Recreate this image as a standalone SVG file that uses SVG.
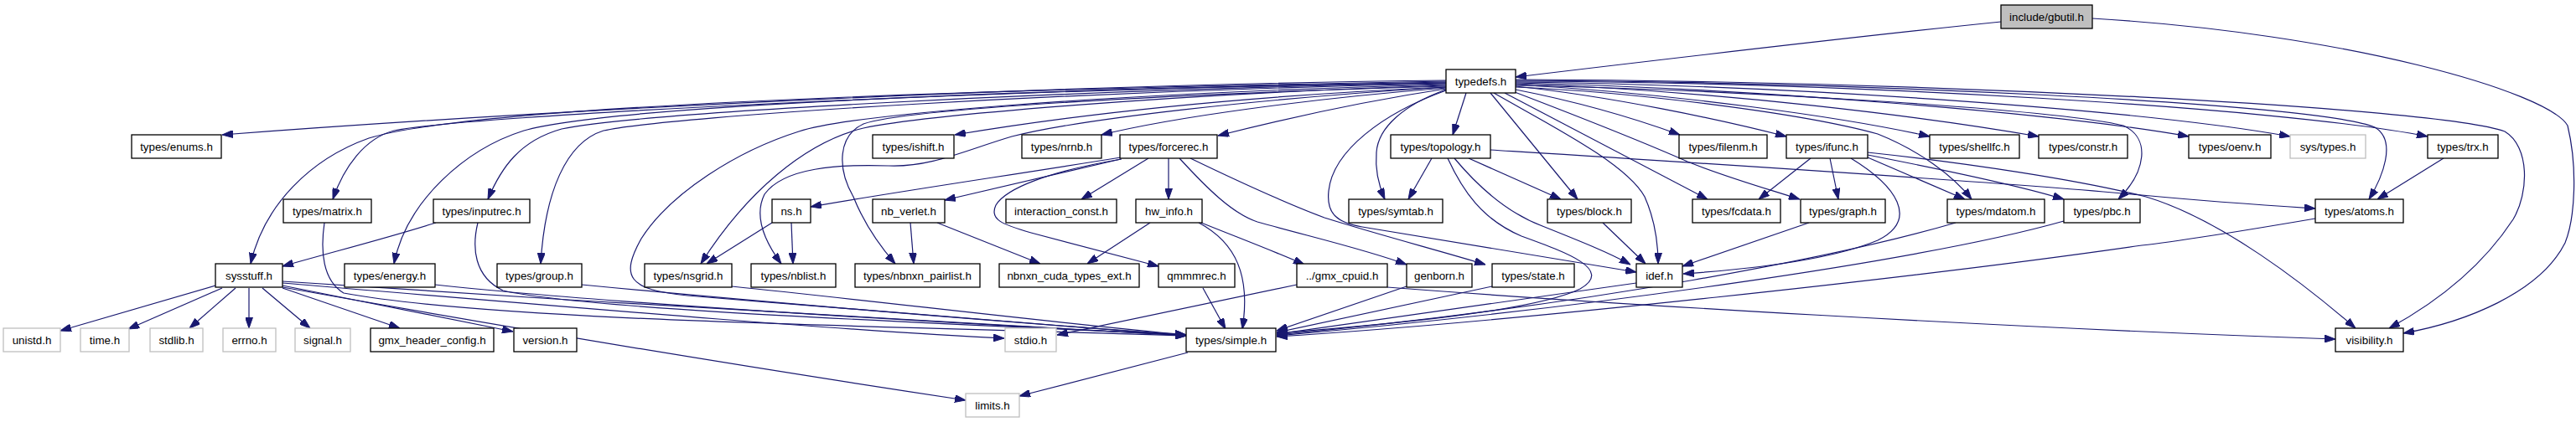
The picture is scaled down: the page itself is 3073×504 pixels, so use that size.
<svg xmlns="http://www.w3.org/2000/svg" width="3073" height="504" viewBox="0 0 3073 504">
<style>
.n rect{fill:#fff;stroke:#000;stroke-width:1.3}
.g rect{fill:#fff;stroke:#bfbfbf;stroke-width:1.3}
.r rect{fill:#bfbfbf;stroke:#000;stroke-width:1.3}
text{font-family:"Liberation Sans",Arial,sans-serif;font-size:13.33px;fill:#000;text-anchor:middle}
#edges path{fill:none;stroke:#191970;stroke-width:1.2;marker-end:url(#ah)}
</style>
<defs>
<marker id="ah" viewBox="0 0 13 9" refX="13" refY="4.5" markerWidth="13" markerHeight="9" markerUnits="userSpaceOnUse" orient="auto"><path d="M0,0 L13,4.5 L0,9 z" fill="#191970" stroke="#191970" stroke-width="1"/></marker>
</defs>
<rect width="3073" height="504" fill="#fff"/>
<g id="edges">
<path d="M2387,26 C2200,45 1950,75 1808,92"/>
<path d="M2496,22 C2800,40 3040,110 3063,150 C3075,200 3072,260 3060,290 C3030,350 2940,385 2867,398"/>
<path d="M1725,96 C1300,100 700,128 265,161"/>
<path d="M1725,97 C1100,108 560,128 440,165 C370,190 315,245 299,315"/>
<path d="M1725,98 C1150,108 560,138 470,156 C435,165 410,200 397,238"/>
<path d="M1725,99 C1250,108 760,135 670,154 C620,168 598,200 582,238"/>
<path d="M1725,99 C1200,106 720,128 625,156 C555,178 485,240 470,315"/>
<path d="M1725,100 C1300,108 800,138 720,156 C675,170 650,230 645,315"/>
<path d="M1725,101 C1300,112 1010,138 953,157 C880,180 800,230 765,285 C740,330 748,346 820,353 C1050,372 1300,392 1415,401"/>
<path d="M1725,102 C1400,112 1100,138 1030,153 C960,170 890,230 836,315"/>
<path d="M1725,104 C1500,118 1290,142 1207,163 C1150,180 1110,200 1060,198 C1000,196 935,200 912,232 C898,260 915,292 932,315"/>
<path d="M1725,103 C1400,112 1080,130 1030,148 C1000,162 998,200 1018,235 C1030,265 1048,292 1068,315"/>
<path d="M1725,104 C1500,114 1300,134 1139,161"/>
<path d="M1725,105 C1560,118 1400,140 1314,161"/>
<path d="M1725,106 C1620,122 1520,145 1453,162"/>
<path d="M1749,111 L1733,161"/>
<path d="M1725,107 C1675,125 1644,152 1642,182 C1640,205 1645,222 1652,238"/>
<path d="M1725,108 C1650,135 1590,180 1585,228 C1582,255 1595,266 1625,271 L1952,325"/>
<path d="M1420,189 C1480,218 1540,245 1580,260 C1650,282 1720,300 1772,316"/>
<path d="M1778,111 L1882,238"/>
<path d="M1782,111 C1850,150 1940,195 1962,235 C1974,262 1978,290 1978,315"/>
<path d="M1795,111 L2037,238"/>
<path d="M1807,110 C1880,138 1950,165 2013,193 C2060,212 2110,226 2147,238"/>
<path d="M1808,107 C1900,125 1960,145 2004,161"/>
<path d="M1808,104 C1950,110 2150,135 2240,160 C2290,180 2330,210 2352,238"/>
<path d="M1808,103 C1920,115 2050,142 2131,163"/>
<path d="M1808,101 C2000,112 2200,140 2302,163"/>
<path d="M1808,100 C2050,108 2300,140 2432,163"/>
<path d="M1808,99 C2100,106 2460,136 2611,163"/>
<path d="M1808,98 C2150,102 2560,132 2732,163"/>
<path d="M1808,97 C2200,98 2720,128 2896,163"/>
<path d="M1808,96 C2200,98 2760,122 2833,152 C2860,168 2842,212 2826,238"/>
<path d="M1808,95 C2300,97 2910,128 2988,157 C3018,175 3017,230 2998,262 C2960,320 2905,362 2850,392"/>
<path d="M1808,102 C2100,108 2460,132 2533,150 C2566,165 2560,205 2527,238"/>
<path d="M1708,189 L1680,238"/>
<path d="M1752,189 L1862,238"/>
<path d="M1735,189 C1765,225 1800,255 1840,270 C1885,288 1920,302 1945,316"/>
<path d="M1727,189 C1745,228 1768,262 1815,282 C1870,302 1925,322 1885,345 C1830,372 1650,388 1523,398"/>
<path d="M1778,179 C2000,193 2400,218 2555,233 C2650,242 2715,246 2762,249"/>
<path d="M2160,189 L2098,238"/>
<path d="M2183,189 L2193,238"/>
<path d="M2208,189 C2262,222 2290,262 2240,287 C2180,312 2080,322 2008,327"/>
<path d="M2228,188 L2344,238"/>
<path d="M2228,185 C2330,205 2420,225 2462,238"/>
<path d="M2228,182 C2350,195 2480,215 2560,235 C2650,262 2750,340 2810,392"/>
<path d="M2915,189 L2836,238"/>
<path d="M2762,261 C2680,275 2600,288 2555,293 C2300,330 1800,385 1523,402"/>
<path d="M2333,266 C2200,305 1900,365 1523,400"/>
<path d="M2462,264 C2300,310 1900,368 1523,401"/>
<path d="M1655,343 C1900,362 2400,392 2786,405"/>
<path d="M1547,340 L1261,400"/>
<path d="M1678,342 L1523,395"/>
<path d="M1780,342 L1523,397"/>
<path d="M1952,338 L1523,399"/>
<path d="M2158,266 L2007,318"/>
<path d="M1912,266 L1963,315"/>
<path d="M1430,266 C1475,290 1492,330 1482,393"/>
<path d="M1435,344 L1462,393"/>
<path d="M1372,266 L1297,315"/>
<path d="M1433,266 C1480,285 1520,300 1556,316"/>
<path d="M1086,266 L1090,315"/>
<path d="M1118,266 L1241,315"/>
<path d="M1337,188 C1200,210 1050,232 967,247"/>
<path d="M1337,190 L1127,239"/>
<path d="M1338,190 C1250,205 1200,225 1188,245 C1180,262 1195,268 1230,278 L1382,318"/>
<path d="M1370,189 L1290,238"/>
<path d="M1394,189 L1394,238"/>
<path d="M1407,189 C1440,225 1470,255 1500,265 C1560,282 1630,298 1678,316"/>
<path d="M921,266 L843,315"/>
<path d="M944,266 L946,315"/>
<path d="M520,266 C460,285 400,300 337,318"/>
<path d="M570,266 C563,295 565,330 600,347 C700,370 1100,385 1415,400"/>
<path d="M387,266 C382,300 385,335 410,350 C600,385 1100,390 1415,401"/>
<path d="M519,340 C700,360 1100,385 1415,400"/>
<path d="M694,340 C900,360 1200,385 1415,400"/>
<path d="M873,342 C1050,360 1250,385 1415,400"/>
<path d="M337,336 C700,360 1100,385 1415,401"/>
<path d="M337,338 C600,360 1000,395 1198,404"/>
<path d="M337,341 L612,396"/>
<path d="M337,343 C600,390 900,440 1152,478"/>
<path d="M257,341 L72,395"/>
<path d="M265,344 L153,393"/>
<path d="M281,344 L226,392"/>
<path d="M297,344 L297,392"/>
<path d="M313,344 L370,392"/>
<path d="M337,344 L477,392"/>
<path d="M1417,421 L1216,473"/>
</g>
<g id="n_gbutil" class="r"><rect x="2387" y="6" width="109" height="28"/><text x="2441.5" y="24.7">include/gbutil.h</text></g>
<g id="n_typedefs" class="n"><rect x="1725" y="83" width="83" height="28"/><text x="1766.5" y="101.7">typedefs.h</text></g>
<g id="n_enums" class="n"><rect x="157" y="161" width="107" height="28"/><text x="210.5" y="179.7">types/enums.h</text></g>
<g id="n_ishift" class="n"><rect x="1041" y="161" width="97" height="28"/><text x="1089.5" y="179.7">types/ishift.h</text></g>
<g id="n_nrnb" class="n"><rect x="1219" y="161" width="95" height="28"/><text x="1266.5" y="179.7">types/nrnb.h</text></g>
<g id="n_forcerec" class="n"><rect x="1336" y="161" width="116" height="28"/><text x="1394" y="179.7">types/forcerec.h</text></g>
<g id="n_topology" class="n"><rect x="1659" y="161" width="119" height="28"/><text x="1718.5" y="179.7">types/topology.h</text></g>
<g id="n_filenm" class="n"><rect x="2003" y="161" width="105" height="28"/><text x="2055.5" y="179.7">types/filenm.h</text></g>
<g id="n_ifunc" class="n"><rect x="2131" y="161" width="97" height="28"/><text x="2179.5" y="179.7">types/ifunc.h</text></g>
<g id="n_shellfc" class="n"><rect x="2302" y="161" width="107" height="28"/><text x="2355.5" y="179.7">types/shellfc.h</text></g>
<g id="n_constr" class="n"><rect x="2432" y="161" width="106" height="28"/><text x="2485" y="179.7">types/constr.h</text></g>
<g id="n_oenv" class="n"><rect x="2611" y="161" width="98" height="28"/><text x="2660" y="179.7">types/oenv.h</text></g>
<g id="n_systypes" class="g"><rect x="2732" y="161" width="90" height="28"/><text x="2777" y="179.7">sys/types.h</text></g>
<g id="n_trx" class="n"><rect x="2896" y="161" width="84" height="28"/><text x="2938" y="179.7">types/trx.h</text></g>
<g id="n_matrix" class="n"><rect x="338" y="238" width="105" height="28"/><text x="390.5" y="256.7">types/matrix.h</text></g>
<g id="n_inputrec" class="n"><rect x="517" y="238" width="115" height="28"/><text x="574.5" y="256.7">types/inputrec.h</text></g>
<g id="n_ns" class="n"><rect x="921" y="238" width="46" height="28"/><text x="944" y="256.7">ns.h</text></g>
<g id="n_nb_verlet" class="n"><rect x="1041" y="238" width="86" height="28"/><text x="1084" y="256.7">nb_verlet.h</text></g>
<g id="n_interaction_const" class="n"><rect x="1200" y="238" width="132" height="28"/><text x="1266" y="256.7">interaction_const.h</text></g>
<g id="n_hw_info" class="n"><rect x="1355" y="238" width="79" height="28"/><text x="1394.5" y="256.7">hw_info.h</text></g>
<g id="n_symtab" class="n"><rect x="1609" y="238" width="112" height="28"/><text x="1665" y="256.7">types/symtab.h</text></g>
<g id="n_block" class="n"><rect x="1846" y="238" width="100" height="28"/><text x="1896" y="256.7">types/block.h</text></g>
<g id="n_fcdata" class="n"><rect x="2019" y="238" width="105" height="28"/><text x="2071.5" y="256.7">types/fcdata.h</text></g>
<g id="n_graph" class="n"><rect x="2148" y="238" width="101" height="28"/><text x="2198.5" y="256.7">types/graph.h</text></g>
<g id="n_mdatom" class="n"><rect x="2323" y="238" width="116" height="28"/><text x="2381" y="256.7">types/mdatom.h</text></g>
<g id="n_pbc" class="n"><rect x="2462" y="238" width="91" height="28"/><text x="2507.5" y="256.7">types/pbc.h</text></g>
<g id="n_atoms" class="n"><rect x="2762" y="238" width="105" height="28"/><text x="2814.5" y="256.7">types/atoms.h</text></g>
<g id="n_sysstuff" class="n"><rect x="257" y="315" width="80" height="28"/><text x="297" y="333.7">sysstuff.h</text></g>
<g id="n_energy" class="n"><rect x="411" y="315" width="108" height="28"/><text x="465" y="333.7">types/energy.h</text></g>
<g id="n_group" class="n"><rect x="593" y="315" width="101" height="28"/><text x="643.5" y="333.7">types/group.h</text></g>
<g id="n_nsgrid" class="n"><rect x="769" y="315" width="104" height="28"/><text x="821" y="333.7">types/nsgrid.h</text></g>
<g id="n_nblist" class="n"><rect x="896" y="315" width="101" height="28"/><text x="946.5" y="333.7">types/nblist.h</text></g>
<g id="n_nbnxn_pairlist" class="n"><rect x="1020" y="315" width="149" height="28"/><text x="1094.5" y="333.7">types/nbnxn_pairlist.h</text></g>
<g id="n_nbnxn_cuda" class="n"><rect x="1192" y="315" width="167" height="28"/><text x="1275.5" y="333.7">nbnxn_cuda_types_ext.h</text></g>
<g id="n_qmmmrec" class="n"><rect x="1382" y="315" width="91" height="28"/><text x="1427.5" y="333.7">qmmmrec.h</text></g>
<g id="n_gmx_cpuid" class="n"><rect x="1547" y="315" width="108" height="28"/><text x="1601" y="333.7">../gmx_cpuid.h</text></g>
<g id="n_genborn" class="n"><rect x="1678" y="315" width="78" height="28"/><text x="1717" y="333.7">genborn.h</text></g>
<g id="n_state" class="n"><rect x="1780" y="315" width="98" height="28"/><text x="1829" y="333.7">types/state.h</text></g>
<g id="n_idef" class="n"><rect x="1952" y="315" width="55" height="28"/><text x="1979.5" y="333.7">idef.h</text></g>
<g id="n_unistd" class="g"><rect x="4" y="392" width="68" height="28"/><text x="38" y="410.7">unistd.h</text></g>
<g id="n_time" class="g"><rect x="96" y="392" width="58" height="28"/><text x="125" y="410.7">time.h</text></g>
<g id="n_stdlib" class="g"><rect x="179" y="392" width="63" height="28"/><text x="210.5" y="410.7">stdlib.h</text></g>
<g id="n_errno" class="g"><rect x="266" y="392" width="63" height="28"/><text x="297.5" y="410.7">errno.h</text></g>
<g id="n_signal" class="g"><rect x="352" y="392" width="66" height="28"/><text x="385" y="410.7">signal.h</text></g>
<g id="n_gmx_header_config" class="n"><rect x="442" y="392" width="147" height="28"/><text x="515.5" y="410.7">gmx_header_config.h</text></g>
<g id="n_version" class="n"><rect x="613" y="392" width="75" height="28"/><text x="650.5" y="410.7">version.h</text></g>
<g id="n_stdio" class="g"><rect x="1199" y="392" width="61" height="28"/><text x="1229.5" y="410.7">stdio.h</text></g>
<g id="n_simple" class="n"><rect x="1415" y="392" width="107" height="28"/><text x="1468.5" y="410.7">types/simple.h</text></g>
<g id="n_visibility" class="n"><rect x="2786" y="392" width="81" height="28"/><text x="2826.5" y="410.7">visibility.h</text></g>
<g id="n_limits" class="g"><rect x="1152" y="470" width="64" height="28"/><text x="1184" y="488.7">limits.h</text></g>
</svg>
